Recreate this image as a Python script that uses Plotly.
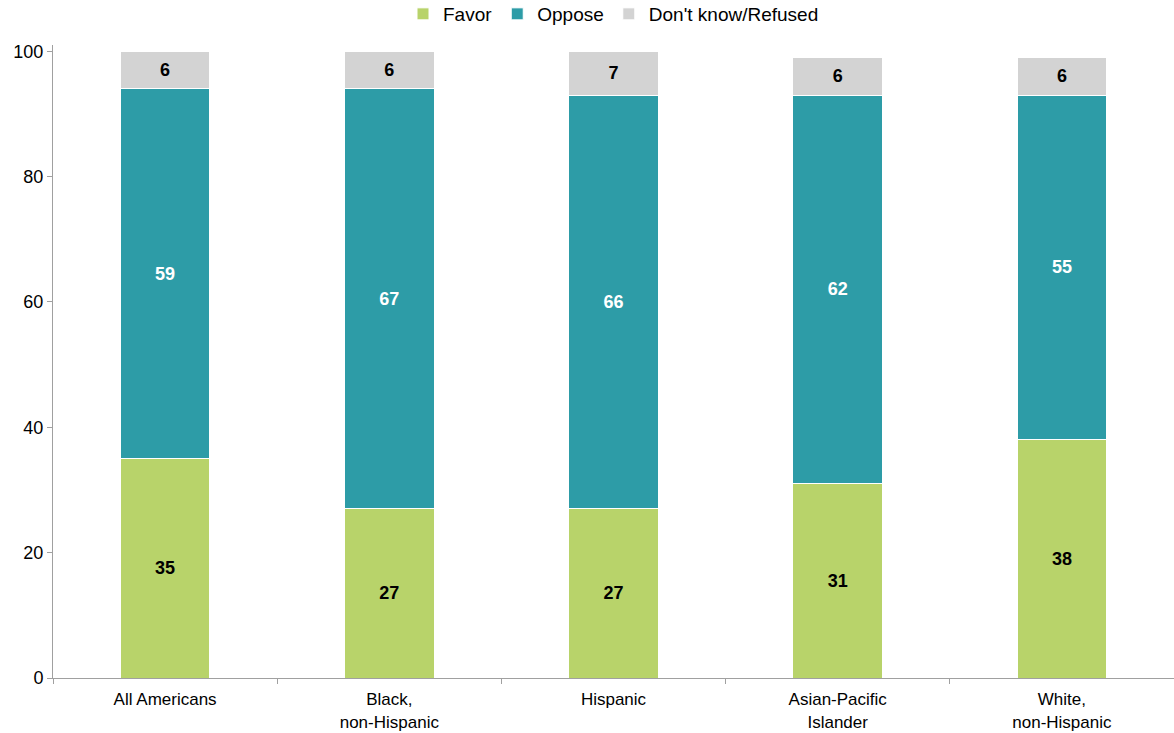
import plotly.graph_objects as go

categories = ["All Americans", "Black,<br>non-Hispanic", "Hispanic", "Asian-Pacific<br>Islander", "White,<br>non-Hispanic"]
favor = [35, 27, 27, 31, 38]
oppose = [59, 67, 66, 62, 55]
dk = [6, 6, 7, 6, 6]

FONT = "Liberation Sans, Arial, Helvetica, sans-serif"

series = [
    ("Favor", favor, "#b8d36a", "black"),
    ("Oppose", oppose, "#2d9ca7", "white"),
    ("Don't know/Refused", dk, "#d3d3d3", "black"),
]

fig = go.Figure()
for name, vals, color, tcolor in series:
    fig.add_trace(go.Bar(
        name=name, x=categories, y=vals,
        marker=dict(color=color, line=dict(color="white", width=1)),
        text=[str(v) for v in vals],
        textposition="inside", insidetextanchor="middle",
        textfont=dict(color=tcolor, size=18, family=FONT, weight="bold"),
        width=0.4,
    ))

fig.update_layout(
    barmode="stack",
    width=1174, height=733,
    margin=dict(l=53, r=0, t=45, b=55, autoexpand=False),
    plot_bgcolor="white", paper_bgcolor="white",
    font=dict(family=FONT, size=17, color="black"),
    legend=dict(orientation="h", x=0.5, xanchor="center", y=1.049, yanchor="middle",
                yref="paper", font=dict(size=19), traceorder="normal",
                itemwidth=30, tracegroupgap=0),
    showlegend=True,
)
fig.update_xaxes(showline=True, linecolor="#a0a0a0", linewidth=1, ticks="outside",
                 tickson="boundaries", ticklen=5, tickcolor="#a0a0a0",
                 tickfont=dict(size=17), showgrid=False, ticklabelstandoff=6)
fig.update_yaxes(range=[0, 101], showline=True, linecolor="#a0a0a0", linewidth=1,
                 ticks="outside", ticklen=5, tickcolor="#a0a0a0",
                 tickvals=[0, 20, 40, 60, 80, 100],
                 tickfont=dict(size=18), showgrid=False, zeroline=False)

fig.write_html("out.html")
